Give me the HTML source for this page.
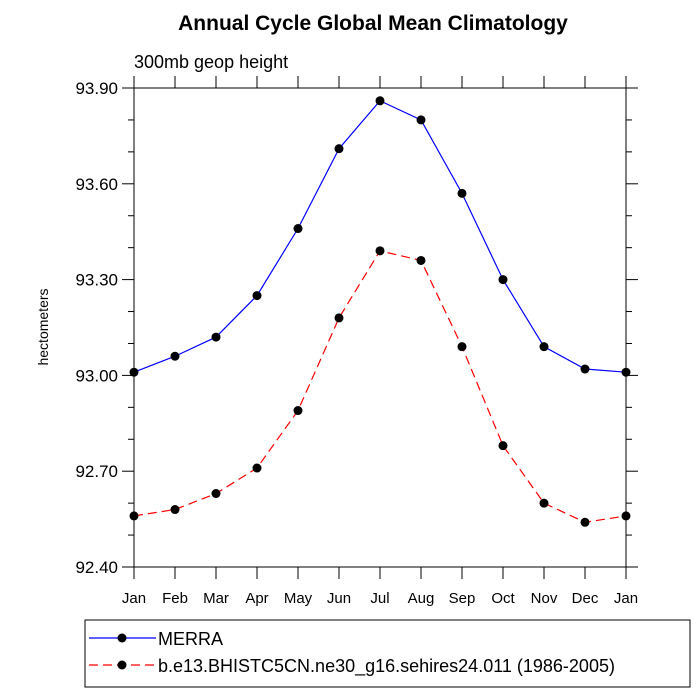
<!DOCTYPE html>
<html><head><meta charset="utf-8">
<style>
body{margin:0;background:#fff;font-family:"Liberation Sans",sans-serif;}
svg{display:block}
</style></head>
<body>
<svg id="chart" width="700" height="700" xmlns="http://www.w3.org/2000/svg">
<text x="373" y="30" text-anchor="middle" font-size="21" font-weight="bold">Annual Cycle Global Mean Climatology</text>
<text x="134" y="68" font-size="18">300mb geop height</text>
<text transform="translate(48,327) rotate(-90)" text-anchor="middle" font-size="14">hectometers</text>
<g id="axes"></g>
<g id="series"></g>
<rect x="85" y="620" width="605" height="67" fill="none" stroke="#000" stroke-width="1"/>
<g id="legend"></g>
</svg>
<script>
const months=["Jan","Feb","Mar","Apr","May","Jun","Jul","Aug","Sep","Oct","Nov","Dec","Jan"];
const yTicks=[92.40,92.70,93.00,93.30,93.60,93.90];
const merra=[93.01,93.06,93.12,93.25,93.46,93.71,93.86,93.80,93.57,93.30,93.09,93.02,93.01];
const model=[92.56,92.58,92.63,92.71,92.89,93.18,93.39,93.36,93.09,92.78,92.60,92.54,92.56];
const seriesNames=["MERRA","b.e13.BHISTC5CN.ne30_g16.sehires24.011 (1986-2005)"];
const NS="http://www.w3.org/2000/svg";
const L=134,R=626,T=88,B=567,ymin=92.4,ymax=93.9;
const xs=i=>L+(R-L)*i/(months.length-1);
const ys=v=>B-(B-T)*(v-ymin)/(ymax-ymin);
function mk(tag,at,parent){const e=document.createElementNS(NS,tag);for(const k in at)e.setAttribute(k,at[k]);parent.appendChild(e);return e;}
const ax=document.getElementById('axes');
const frame=mk('rect',{x:L,y:T,width:R-L,height:B-T,fill:'none',stroke:'#000','stroke-width':1},ax);


yTicks.forEach((v,i)=>{
  const y=ys(v);
  mk('line',{x1:L-12,x2:L,y1:y,y2:y,stroke:'#000'},ax);
  mk('line',{x1:R,x2:R+12,y1:y,y2:y,stroke:'#000'},ax);
  const t=mk('text',{x:L-16,y:y+6,'text-anchor':'end','font-size':17},ax);
  t.textContent=v.toFixed(2);
  
  
  if(i<yTicks.length-1){
    for(let k=1;k<3;k++){const ym=ys(v+(yTicks[i+1]-v)*k/3);
      mk('line',{x1:L-6,x2:L,y1:ym,y2:ym,stroke:'#000'},ax);
      mk('line',{x1:R,x2:R+6,y1:ym,y2:ym,stroke:'#000'},ax);}
  }
});
months.forEach((m,i)=>{
  const x=xs(i);
  mk('line',{x1:x,x2:x,y1:B,y2:B+12,stroke:'#000'},ax);
  mk('line',{x1:x,x2:x,y1:T,y2:T-12,stroke:'#000'},ax);
  const t=mk('text',{x:x,y:B+36,'text-anchor':'middle','font-size':15},ax);
  t.textContent=m;
  
  
});
const sg=document.getElementById('series');
function drawSeries(vals,color,dash,name){
  const g=mk('g',{},sg);
  
  
  const pts=vals.map((v,i)=>xs(i)+','+ys(v)).join(' ');
  const pl=mk('polyline',{points:pts,fill:'none',stroke:color,'stroke-width':1.2,'stroke-dasharray':dash},g);
  
  
  vals.forEach((v,i)=>{const c=mk('circle',{cx:xs(i),cy:ys(v),r:4.5,fill:'#000'},g);
    
    });
}
drawSeries(merra,'#0000ff','none','merra-series');
drawSeries(model,'#ff0000','9,5','model-series');
const lg=document.getElementById('legend');
[[ '#0000ff','none',638],['#ff0000','9,5',665]].forEach((s,i)=>{
  const g=mk('g',{},lg);
  
  
  mk('line',{x1:89,x2:156,y1:s[2],y2:s[2],stroke:s[0],'stroke-width':1.2,'stroke-dasharray':s[1]},g);
  mk('circle',{cx:122,cy:s[2],r:4.5,fill:'#000'},g);
  const t=mk('text',{x:158,y:s[2]+7,'font-size':18},g);
  t.textContent=seriesNames[i];
});
</script>
</body></html>
